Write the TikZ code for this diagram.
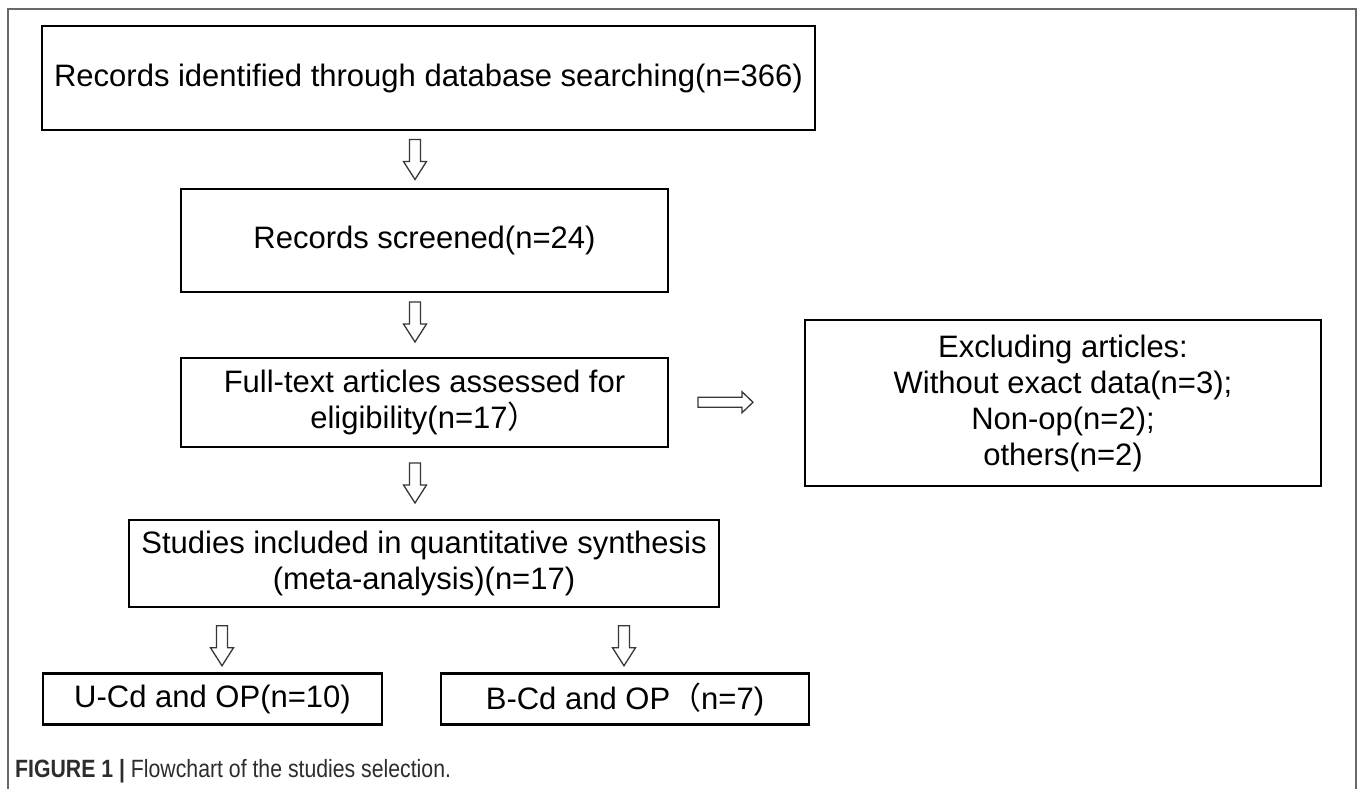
\documentclass[tikz,border=0pt]{standalone}
\usepackage{fontspec}
\setmainfont{Liberation Sans}
\newfontfamily\cjkfont{Noto Sans CJK SC}
\newfontfamily\capfont[FakeStretch=0.85]{Liberation Sans}
\usetikzlibrary{calc}
\definecolor{framegray}{RGB}{105,105,105}
\definecolor{arrowgray}{RGB}{55,55,55}
\definecolor{captext}{RGB}{45,45,45}
\begin{document}
\begin{tikzpicture}[x=1pt,y=-1pt,
  box/.style={draw=black, line width=2.2pt, align=center, inner sep=0pt,
    font=\fontsize{31}{36}\selectfont},
  blockarrow/.style={draw=arrowgray, line width=1.3pt, fill=white, line join=miter},
  pics/downarr/.style={code={\draw[blockarrow] (-5.5,-20) -- (5.5,-20) -- (5.5,2) -- (11.5,2) -- (0,20) -- (-11.5,2) -- (-5.5,2) -- cycle;}},
  pics/rightarr/.style={code={\draw[blockarrow] (-27.5,-5) -- (16.5,-5) -- (16.5,-10.5) -- (27.5,0) -- (16.5,10.5) -- (16.5,5) -- (-27.5,5) -- cycle;}}
]
\useasboundingbox (0,0) rectangle (1358,789);
\fill[white] (0,0) rectangle (1358,789);
\draw[framegray, line width=2pt] (7.5,789) -- (7.5,9.5) -- (1355.5,9.5) -- (1355.5,789);

\node[box, minimum width=773, minimum height=104] (b1) at (428.5,78) {Records identified through database searching(n=366)};
\node[box, minimum width=487, minimum height=103] (b2) at (424.5,240.5) {Records screened(n=24)};
\node[box, minimum width=487, minimum height=89] (b3) at (424.5,402.5) {Full-text articles assessed for\\eligibility(n=17{\cjkfont ）}};
\node[box, minimum width=516, minimum height=166] (ex) at (1063,403) {Excluding articles:\\Without exact data(n=3);\\Non-op(n=2);\\others(n=2)};
\node[box, minimum width=590, minimum height=87] (st) at (424,563.5) {Studies included in quantitative synthesis\\(meta-analysis)(n=17)};
\node[box, minimum width=339, minimum height=51] (u) at (212.5,699) {U-Cd and OP(n=10)};
\node[box, minimum width=368, minimum height=51] (bc) at (625,699) {B-Cd and OP{\cjkfont （}n=7)};

\pic at ($(b1.south)!0.5!(b2.north)+(-11.5,0)$) {downarr};
\pic at ($(b2.south)!0.5!(b3.north)+(-9.5,-3)$) {downarr};
\pic at ($(b3.south)!0.5!(st.north)+(-9.25,-0.5)$) {downarr};
\pic at ($(u.north)!0.5!(u.north|-st.south)+(9.5,5.5)$) {downarr};
\pic at ($(bc.north)!0.5!(bc.north|-st.south)+(-1,5.5)$) {downarr};
\pic at ($(b3.east)!0.5!(ex.west)+(-11,-0.5)$) {rightarr};

\node[anchor=base west, inner sep=0pt, text=captext, font=\capfont\fontsize{25}{30}\selectfont] (cap) at (15,777) {\textbf{FIGURE 1 |} Flowchart of the studies selection.};
\end{tikzpicture}
\end{document}
